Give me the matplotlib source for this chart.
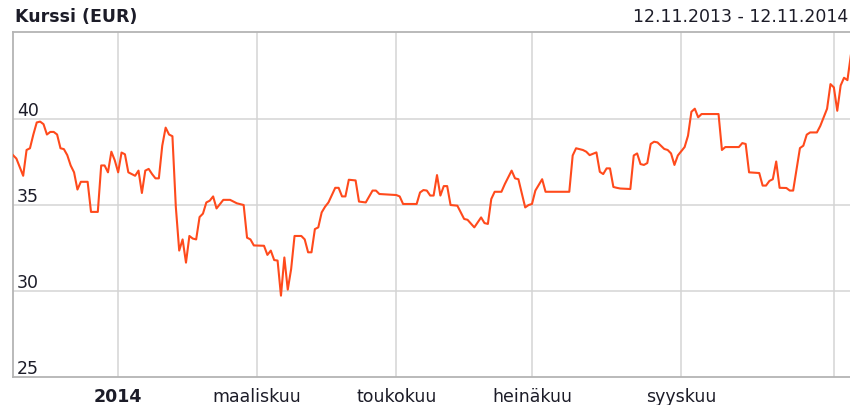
import numpy as np
import matplotlib
matplotlib.use('Agg')
import matplotlib.pyplot as plt

plt.rcParams['font.family'] = ['DejaVu Sans']

# trading sessions counted from 12.11.2013 (Helsinki exchange calendar)
START = '2013-11-12'
HOLIDAYS = ['2013-12-06', '2013-12-24', '2013-12-25', '2013-12-26', '2013-12-31',
            '2014-01-01', '2014-01-06', '2014-04-18', '2014-04-21', '2014-05-01',
            '2014-05-29', '2014-06-20']

session = [0, 1, 3, 4, 5, 6, 7, 8, 9, 10, 11, 12, 13, 14, 15, 16, 17, 18, 19, 20,
           22, 23, 25, 26, 27, 28, 29, 30, 31, 32, 33, 34, 36, 37, 38, 39, 40, 41, 42, 43,
           44, 45, 46, 47, 48, 49, 50, 51, 52, 53, 54, 55, 56, 57, 58, 59, 60, 61, 62, 64,
           66, 68, 69, 70, 71, 74, 75, 76, 77, 78, 79, 80, 81, 82, 83, 85, 86, 87, 88, 89,
           90, 91, 92, 93, 95, 96, 97, 98, 99, 101, 102, 104, 106, 107, 108, 113, 114, 115, 119, 120,
           121, 122, 123, 124, 125, 126, 127, 128, 129, 131, 133, 134, 136, 138, 139, 140, 141, 142, 144, 145,
           147, 148, 149, 151, 152, 153, 154, 156, 157, 164, 165, 166, 168, 169, 170, 172, 173, 174, 175, 176,
           177, 178, 179, 182, 183, 184, 185, 186, 187, 188, 189, 190, 192, 193, 194, 195, 196, 198, 199, 200,
           201, 202, 203, 208, 209, 210, 214, 215, 216, 217, 220, 221, 222, 223, 224, 225, 226, 228, 229, 230,
           232, 233, 234, 235, 237, 238, 239, 240, 241, 242, 243, 244, 245, 246, 247]
price = [37.9, 37.7, 36.7, 38.2, 38.3, 39.1, 39.8, 39.85, 39.7, 39.1, 39.25, 39.25, 39.1, 38.3, 38.25, 37.9, 37.3, 36.9, 35.9, 36.35,
         36.35, 34.6, 34.6, 37.3, 37.3, 36.9, 38.1, 37.6, 36.9, 38.05, 37.95, 36.9, 36.7, 37.0, 35.7, 37.0, 37.1, 36.8, 36.55, 36.55,
         38.45, 39.5, 39.1, 39.0, 34.9, 32.35, 33.0, 31.65, 33.2, 33.05, 33.0, 34.3, 34.5, 35.15, 35.25, 35.5, 34.8, 35.05, 35.3, 35.3,
         35.1, 35.0, 33.1, 33.0, 32.65, 32.63, 32.1, 32.35, 31.8, 31.77, 29.73, 31.95, 30.08, 31.28, 33.2, 33.2, 33.0, 32.25, 32.25, 33.6,
         33.7, 34.57, 34.9, 35.15, 36.0, 36.0, 35.5, 35.5, 36.47, 36.43, 35.2, 35.15, 35.84, 35.84, 35.64, 35.58, 35.5, 35.06, 35.06, 35.73,
         35.87, 35.84, 35.55, 35.55, 36.74, 35.55, 36.1, 36.1, 35.0, 34.96, 34.19, 34.14, 33.7, 34.28, 33.95, 33.9, 35.35, 35.77, 35.77, 36.22,
         37.0, 36.55, 36.5, 34.86, 35.0, 35.06, 35.84, 36.5, 35.77, 35.77, 37.88, 38.3, 38.2, 38.1, 37.9, 38.06, 36.93, 36.8, 37.13, 37.13,
         36.05, 36.0, 35.96, 35.93, 37.88, 38.0, 37.38, 37.33, 37.44, 38.55, 38.68, 38.64, 38.26, 38.2, 38.0, 37.33, 37.88, 38.37, 39.03, 40.42,
         40.6, 40.1, 40.29, 40.29, 38.2, 38.37, 38.37, 38.6, 38.55, 36.9, 36.86, 36.13, 36.13, 36.4, 36.5, 37.53, 36.0, 35.99, 35.84, 35.84,
         38.31, 38.45, 39.09, 39.22, 39.22, 39.6, 40.1, 40.6, 42.03, 41.84, 40.48, 41.95, 42.4, 42.26, 43.7]

month_dates = ['2014-01-01', '2014-03-01', '2014-05-01', '2014-07-01', '2014-09-01', '2014-11-01']
month_labels = ['2014', 'maaliskuu', 'toukokuu', 'heinäkuu', 'syyskuu', '']
y_ticks = [25, 30, 35, 40]

LINE = '#ff4a1c'
GRID = '#d4d4d4'
BORDER = '#b4b4b4'
TXT = '#1c1c28'
FS = 12.5

month_x = [np.busday_count(START, np.busday_offset(d, 0, roll='forward', holidays=HOLIDAYS),
                           holidays=HOLIDAYS) for d in month_dates]

fig = plt.figure(figsize=(8.5, 4.06), dpi=100)
ax = fig.add_axes([13/850, 28/406, 848/850, 345/406])
ax.set_xlim(0, 250)
ax.set_ylim(25, 45.06)

for x in month_x:
    ax.axvline(x, color=GRID, lw=1.1, zorder=1)
for y in y_ticks[1:]:
    ax.axhline(y, color=GRID, lw=1.1, zorder=1)

ax.plot(session, price, color=LINE, lw=1.5, solid_joinstyle='round', zorder=3)

ax.set_xticks([])
ax.set_yticks([])
for side, s in ax.spines.items():
    s.set_color(BORDER)
    s.set_linewidth(1.3)
ax.spines['right'].set_visible(False)

for y in y_ticks:
    ax.annotate(str(y), (0, y), xytext=(4, 4), textcoords='offset pixels',
                ha='left', va='baseline', fontsize=FS, color=TXT)

for x, lab in zip(month_x, month_labels):
    ax.annotate(lab, (x, 0), xycoords=('data', 'figure fraction'), xytext=(0, 4),
                textcoords='offset pixels', ha='center', va='baseline', fontsize=FS,
                color=TXT, fontweight='bold' if lab == '2014' else 'normal',
                annotation_clip=False)

fig.text(15/850, 1 - 22/406, 'Kurssi (EUR)', ha='left', va='baseline',
         fontsize=FS, fontweight='bold', color=TXT)
fig.text(848/850, 1 - 22/406, '12.11.2013 - 12.11.2014', ha='right', va='baseline',
         fontsize=FS, color=TXT)

fig.savefig('out.png', dpi=100)
